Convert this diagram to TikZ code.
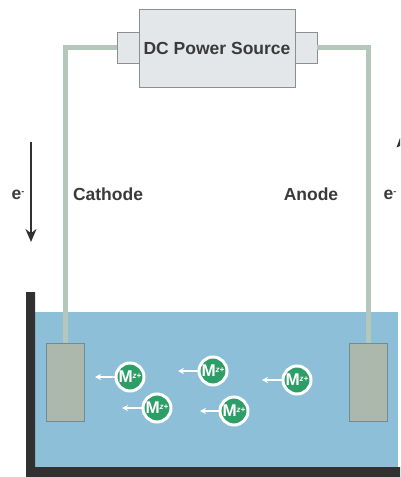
\documentclass[tikz,border=0pt]{standalone}
\usepackage{fontspec}
\setmainfont{Liberation Sans}
\usepackage{tikz}
\usetikzlibrary{arrows.meta}

\definecolor{boxfill}{HTML}{E3E7EA}
\definecolor{boxedge}{HTML}{8E8E8E}
\definecolor{wirecol}{HTML}{B3C7BA}
\definecolor{watercol}{HTML}{8DBFD9}
\definecolor{tankcol}{HTML}{333031}
\definecolor{elecfill}{HTML}{ADB8AD}
\definecolor{elecedge}{HTML}{6F8A99}
\definecolor{ioncol}{HTML}{2E9E68}
\definecolor{textcol}{HTML}{3A3A3A}

\tikzset{
  supply/.style={draw=boxedge,fill=boxfill,line width=0.8pt,minimum width=156pt,minimum height=78pt,inner sep=0pt,text=textcol,font=\bfseries\fontsize{17.5}{17.5}\selectfont},
  tab/.style={draw=boxedge,fill=boxfill,line width=0.8pt,minimum width=22pt,minimum height=31pt},
  electrode/.style={draw=elecedge,fill=elecfill,line width=0.8pt,minimum width=37.5pt,minimum height=78pt},
  wire/.style={draw=wirecol,line width=4.5pt},
  ion/.style={circle,draw=white,fill=ioncol,line width=3pt,minimum size=28pt,inner sep=0pt,text=white,font=\bfseries\fontsize{17}{17}\selectfont},
  drift/.style={draw=white,line width=1.2pt,-{Stealth[length=6pt,width=6pt]}},
  label/.style={text=textcol,font=\bfseries\fontsize{17.5}{17.5}\selectfont},
}

\newcommand{\ionlabel}{M\raisebox{4.5pt}{\fontsize{8}{8}\selectfont\itshape z+}}
\newcommand{\elabel}{e\raisebox{5pt}{\fontsize{9}{9}\selectfont -}}

\begin{document}
\begin{tikzpicture}[x=1pt,y=-1pt]
  \useasboundingbox (0,0) rectangle (400,477);

  % tank
  \fill[watercol] (35,312) rectangle (398,467);
  \fill[tankcol] (26,292) -- (35,292) -- (35,467) -- (400,467) -- (400,477) -- (26,477) -- cycle;

  % power source
  \node[tab] (lefttab) at (128,47.5) {};
  \node[tab] (righttab) at (306,47.5) {};
  \node[supply] (source) at (217,48) {DC Power Source};

  % electrodes
  \node[electrode] (cathode) at (65.5,382) {};
  \node[electrode] (anode) at (368.5,382) {};

  \draw[wire] (lefttab.west) -| (cathode.north);
  \draw[wire] (righttab.east) -| (anode.north);

  \node[label] (cathodelabel) at (108,194.5) {Cathode};
  \node[label] (anodelabel) at (311,194.5) {Anode};

  % electrons
  \coordinate (etop) at (31,142);
  \coordinate (ebottom) at (31,242);
  \draw[draw=tankcol,line width=2.5pt,-{Stealth[length=13pt,width=11pt]}] (etop) -- (ebottom);
  \node[label] (eleft) at (18,195) {\elabel};
  \node[label] (eright) at (390,195) {\elabel};
  \fill[tankcol] (400,138) -- (396.5,147.5) -- (400,146) -- cycle;

  % ions
  \node[ion] (ionA) at (130,377) {\ionlabel};
  \node[ion] (ionB) at (157,408) {\ionlabel};
  \node[ion] (ionC) at (213,371) {\ionlabel};
  \node[ion] (ionD) at (297,380) {\ionlabel};
  \node[ion] (ionE) at (234,411) {\ionlabel};

  \coordinate (driftA) at (95,377);
  \coordinate (driftB) at (122,408);
  \coordinate (driftC) at (178,371);
  \coordinate (driftD) at (262,380);
  \coordinate (driftE) at (200,411);

  \draw[drift] (ionA) -- (driftA);
  \draw[drift] (ionB) -- (driftB);
  \draw[drift] (ionC) -- (driftC);
  \draw[drift] (ionD) -- (driftD);
  \draw[drift] (ionE) -- (driftE);
\end{tikzpicture}
\end{document}
